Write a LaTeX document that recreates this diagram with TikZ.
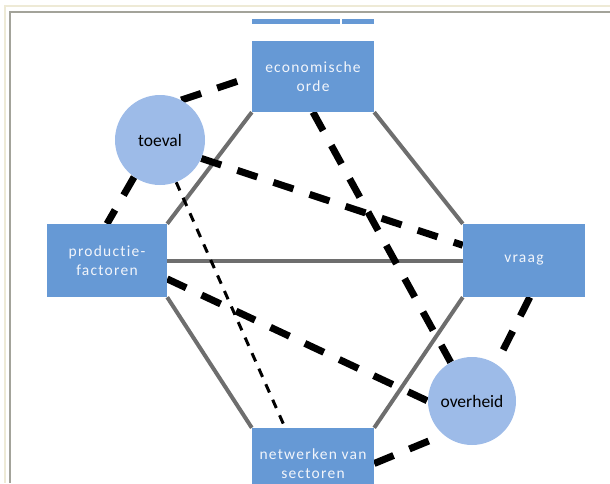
\documentclass[tikz,border=0pt]{standalone}
\usepackage{fontspec}
\setmainfont{Carlito}
\usetikzlibrary{backgrounds}
\definecolor{boxblue}{HTML}{6699D5}
\definecolor{circleblue}{HTML}{9DBBE8}
\definecolor{linegray}{HTML}{6E6E6E}
\definecolor{framegray}{HTML}{A3A39A}
\definecolor{framebeige}{HTML}{EEEAD6}
\definecolor{boxtext}{HTML}{F2F5FB}
\begin{document}
\begin{tikzpicture}
        [x=1pt, y=-1pt,
         box_style/.style={rectangle,fill=boxblue,text=boxtext,align=center,inner sep=0pt,
           minimum width=122pt,minimum height=71pt,
           font=\fontsize{15.5}{19}\selectfont\addfontfeature{LetterSpace=8,Ligatures=NoCommon}},
         circle_style/.style={circle,fill=circleblue,inner sep=0pt,minimum size=90pt,
           font=\fontsize{17.5}{20}\selectfont},
         edge_style/.style={draw=linegray,line width=4pt},
         dash_style/.style={draw=black,line width=7pt,dash pattern=on 21pt off 17pt},
         thin_dash_style/.style={draw=black,line width=3pt,dash pattern=on 9pt off 8pt}]
            \useasboundingbox (0,0) rectangle (610,483);
            \clip (0,0) rectangle (610,483);
            % top strip of the box above
            \fill[boxblue] (252,19) rectangle (340,24);
            \fill[boxblue] (342,19) rectangle (374,24);
            \node[box_style] (econ) at (313,76.5) {economische\\orde};
            \node[box_style,minimum width=120pt,minimum height=73pt] (prod) at (107,260.5) {productie-\\factoren};
            \node[box_style,minimum height=73pt] (vraag) at (524,260.5) {vraag};
            \node[box_style] (netw) at (313,463.5) {netwerken van\\sectoren};
            \node[circle_style] (toeval) at (160,140) {toeval};
            \node[circle_style,minimum size=88pt] (overheid) at (472,401) {overheid};
            \begin{pgfonlayer}{background}
            % frame
            \draw[framebeige,line width=2pt] (5,483) -- (5,6) -- (610,6);
            \draw[framegray,line width=2pt] (10,483) -- (10,12) -- (610,12);
            \draw[edge_style]  (econ.south west) edge (prod.north east);
            \draw[edge_style]  (econ.south east) edge (vraag.north west);
            \draw[edge_style]  (prod.east) edge (vraag.west);
            \draw[edge_style]  (prod.south east) edge (netw.north west);
            \draw[edge_style]  (vraag.south west) edge (netw.north east);
            \draw[dash_style]  (toeval.62) -- (econ.west);
            \draw[dash_style]  (toeval.235) -- (prod.north);
            \draw[dash_style]  (toeval.336) -- (vraag.166);
            \draw[dash_style]  (econ.south) -- (overheid);
            \draw[dash_style]  (prod.343) -- (overheid.west);
            \draw[dash_style]  (netw.east) -- (overheid.230);
            \draw[dash_style]  (vraag.279) -- (overheid.57);
            \draw[thin_dash_style]  (toeval.291) -- (netw.128);
            \end{pgfonlayer}
        \end{tikzpicture}
\end{document}
